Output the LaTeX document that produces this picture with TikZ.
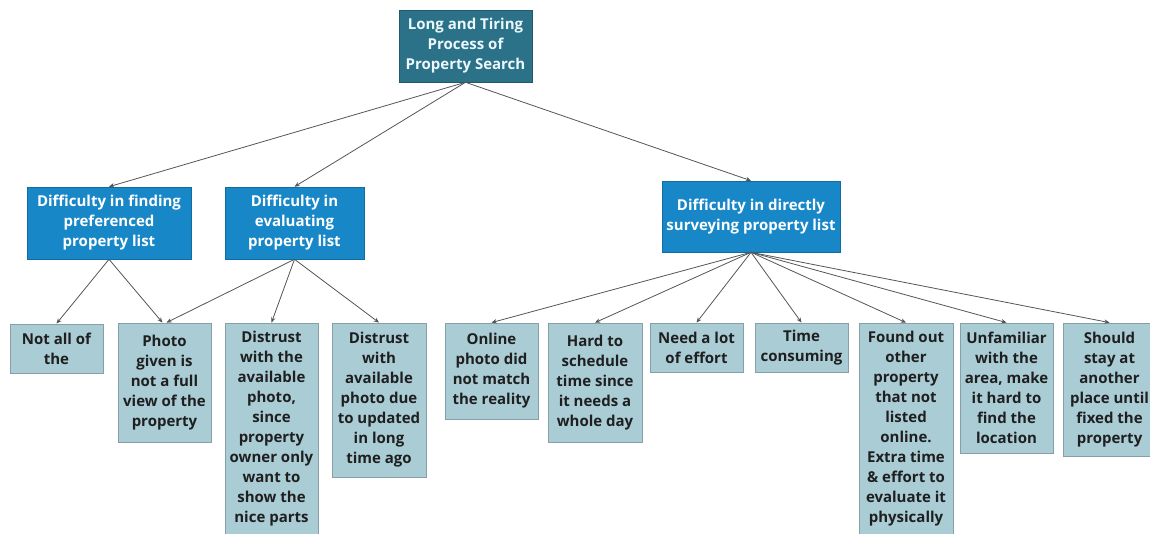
\documentclass[tikz,border=0pt]{standalone}
\usepackage{fontspec}
\setmainfont{Open Sans}
\usetikzlibrary{arrows.meta}

\definecolor{rootteal}{HTML}{2B7187}
\definecolor{causeblue}{HTML}{1787C8}
\definecolor{leaffill}{HTML}{A9CCD5}
\definecolor{leafline}{HTML}{879FA6}
\definecolor{linkgrey}{HTML}{555555}

\tikzset{
    boxtext/.style={font=\fontsize{7.5}{10}\selectfont\bfseries, align=center, inner xsep=1pt, inner ysep=0pt},
    rootbox/.style={boxtext, fill=rootteal, draw=rootteal!80!black, line width=0.3pt, text=cyan!8},
    causebox/.style={boxtext, fill=causeblue, draw=causeblue!80!black, line width=0.3pt, text=white, minimum height=36pt},
    leafbox/.style={boxtext, fill=leaffill, draw=leafline, line width=0.4pt, text=black!88, minimum width=46.5pt},
    link/.style={draw=linkgrey, line width=0.4pt, -{Stealth[length=2.6pt,width=2.2pt]}}
}

\begin{document}
\begin{tikzpicture}[x=0.5pt,y=-0.5pt]
    \useasboundingbox (0,0) rectangle (1150,534);
    \clip (0,0) rectangle (1150,534);

    % top problem
    \node[rootbox, minimum width=66.5pt, minimum height=36pt] (search) at (465.5,46)
        {Long and Tiring\\Process of\\Property Search};

    % three difficulties
    \node[causebox, minimum width=82pt] (finding) at (109,223)
        {Difficulty in finding\\preferenced\\property list};
    \node[causebox, minimum width=69.5pt] (evaluating) at (294.5,223)
        {Difficulty in\\evaluating\\property list};
    \node[causebox, minimum width=89pt, minimum height=35.5pt] (surveying) at (751,216.5)
        {Difficulty in directly\\surveying property list};

    % causes
    \node[leafbox, minimum height=24.5pt] (notall) at (56.5,348.5) {Not all of\\the};
    \node[leafbox, minimum height=59.5pt] (partial) at (164.5,382.5)
        {Photo\\given is\\not a full\\view of the\\property};
    \node[leafbox, minimum height=105.5pt] (niceparts) at (271.5,428.5)
        {Distrust\\with the\\available\\photo,\\since\\property\\owner only\\want to\\show the\\nice parts};
    \node[leafbox, minimum width=47pt, minimum height=77pt] (outdated) at (379,400)
        {Distrust\\with\\available\\photo due\\to updated\\in long\\time ago};
    \node[leafbox, minimum height=48pt] (mismatch) at (491.5,371)
        {Online\\photo did\\not match\\the reality};
    \node[leafbox, minimum width=47pt, minimum height=59.5pt] (schedule) at (595,382.5)
        {Hard to\\schedule\\time since\\it needs a\\whole day};
    \node[leafbox, minimum height=24.5pt] (effort) at (696.5,347.5) {Need a lot\\of effort};
    \node[leafbox, minimum height=24.5pt] (consuming) at (801.5,347.5) {Time\\consuming};
    \node[leafbox, minimum width=47pt, minimum height=105.5pt] (unlisted) at (906,428.5)
        {Found out\\other\\property\\that not\\listed\\online.\\Extra time\\\& effort to\\evaluate it\\physically};
    \node[leafbox, minimum height=65pt] (unfamiliar) at (1006.5,388)
        {Unfamiliar\\with the\\area, make\\it hard to\\find the\\location};
    \node[leafbox, minimum height=66.5pt] (stay) at (1109.5,389.5)
        {Should\\stay at\\another\\place until\\fixed the\\property};

    % links
    \draw[link] (search.south) -- (finding.north);
    \draw[link] (search.south) -- (evaluating.north);
    \draw[link] (search.south) -- (surveying.north);

    \draw[link] (finding.south) -- (notall.north);
    \draw[link] (finding.south) -- ([xshift=-1pt]partial.north);
    \draw[link] (evaluating.south) -- ([xshift=1pt]partial.north);
    \draw[link] (evaluating.south) -- (niceparts.north);
    \draw[link] (evaluating.south) -- (outdated.north);

    \draw[link] (surveying.south) -- (mismatch.north);
    \draw[link] (surveying.south) -- (schedule.north);
    \draw[link] (surveying.south) -- (effort.north);
    \draw[link] (surveying.south) -- (consuming.north);
    \draw[link] (surveying.south) -- (unlisted.north);
    \draw[link] (surveying.south) -- (unfamiliar.north);
    \draw[link] (surveying.south) -- (stay.north);
\end{tikzpicture}
\end{document}
